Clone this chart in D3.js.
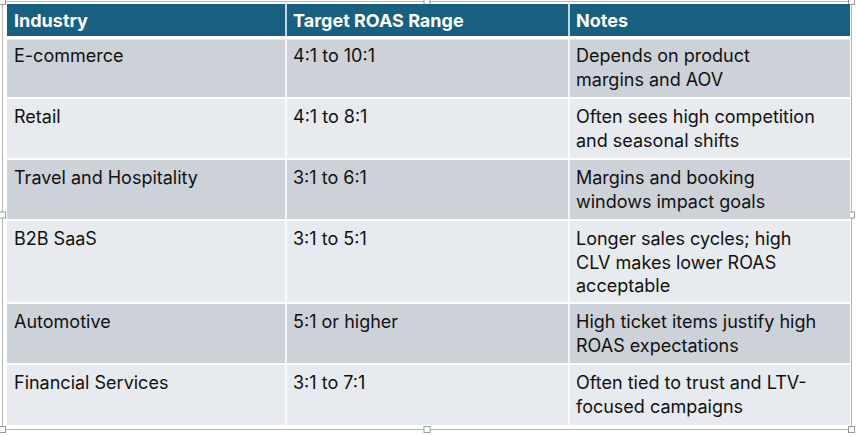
<!DOCTYPE html>
<html><head><meta charset="utf-8">
<script src="https://cdn.jsdelivr.net/npm/d3@7"></script>
<style>body{margin:0;background:#fff}</style>
</head><body>
<svg id="c" width="856" height="436"></svg>
<script>
const headers = ["Industry", "Target ROAS Range", "Notes"];
const industries = ["E-commerce", "Retail", "Travel and Hospitality", "B2B SaaS", "Automotive", "Financial Services"];
const roasRanges = ["4:1 to 10:1", "4:1 to 8:1", "3:1 to 6:1", "3:1 to 5:1", "5:1 or higher", "3:1 to 7:1"];
const notes = [
  ["Depends on product", "margins and AOV"],
  ["Often sees high competition", "and seasonal shifts"],
  ["Margins and booking", "windows impact goals"],
  ["Longer sales cycles; high", "CLV makes lower ROAS", "acceptable"],
  ["High ticket items justify high", "ROAS expectations"],
  ["Often tied to trust and LTV-", "focused campaigns"]
];
const rowLines = [2, 2, 2, 3, 2, 2];

const svg = d3.select("#c");
const font = "Inter, 'Liberation Sans', sans-serif";
const colX = [7, 286, 569, 850];
const headerTop = 4, headerH = 33, lineH = 23.5;
const rowHeights = rowLines.map(n => n === 3 ? 83 : 61);
let y = headerTop + headerH;
const rowTops = rowHeights.map(h => { const t = y; y += h; return t; });
const tableBottom = y;

// outer frame and handles
svg.append("rect").attr("x", 2.5).attr("y", 1.5).attr("width", 849).attr("height", 428)
  .attr("fill", "none").attr("stroke", "#b8b8b8").attr("stroke-width", 1);
const hx = [2.5, 427, 851.5], hy = [1.5, 215, 429.5];
hx.forEach(x0 => hy.forEach(y0 => {
  if (x0 === 427 && y0 === 215) return;
  svg.append("rect").attr("x", x0 - 3).attr("y", y0 - 3).attr("width", 6).attr("height", 6)
    .attr("fill", "#fff").attr("stroke", "#999");
}));

// header
svg.append("rect").attr("x", colX[0]).attr("y", headerTop).attr("width", colX[3] - colX[0]).attr("height", headerH).attr("fill", "#17607f");
headers.forEach((h, i) => svg.append("text").attr("x", colX[i] + 7).attr("y", headerTop + 23)
  .attr("font-family", font).attr("font-weight", 700).attr("font-size", 18).attr("fill", "#fff").text(h));

// rows
industries.forEach((ind, r) => {
  const top = rowTops[r];
  svg.append("rect").attr("x", colX[0]).attr("y", top).attr("width", colX[3] - colX[0]).attr("height", rowHeights[r])
    .attr("fill", r % 2 === 0 ? "#cdd2d9" : "#e7eaee");
  const cells = [[ind], [roasRanges[r]], notes[r]];
  cells.forEach((lines, c) => lines.forEach((t, k) => svg.append("text")
    .attr("x", colX[c] + 7).attr("y", top + 25 + k * lineH)
    .attr("font-family", font).attr("font-size", 18).attr("fill", "#111").text(t)));
});
// white grid lines
rowTops.forEach(t => svg.append("line").attr("x1", colX[0]).attr("x2", colX[3]).attr("y1", t).attr("y2", t)
  .attr("stroke", "#fff").attr("stroke-width", 2));
[1, 2].forEach(i => svg.append("line").attr("x1", colX[i]).attr("x2", colX[i]).attr("y1", headerTop).attr("y2", tableBottom)
  .attr("stroke", "#fff").attr("stroke-width", 1.5));
svg.append("line").attr("x1", colX[0]).attr("x2", colX[3]).attr("y1", headerTop + headerH + 1).attr("y2", headerTop + headerH + 1)
  .attr("stroke", "#fff").attr("stroke-width", 3);
</script>
</body></html>
